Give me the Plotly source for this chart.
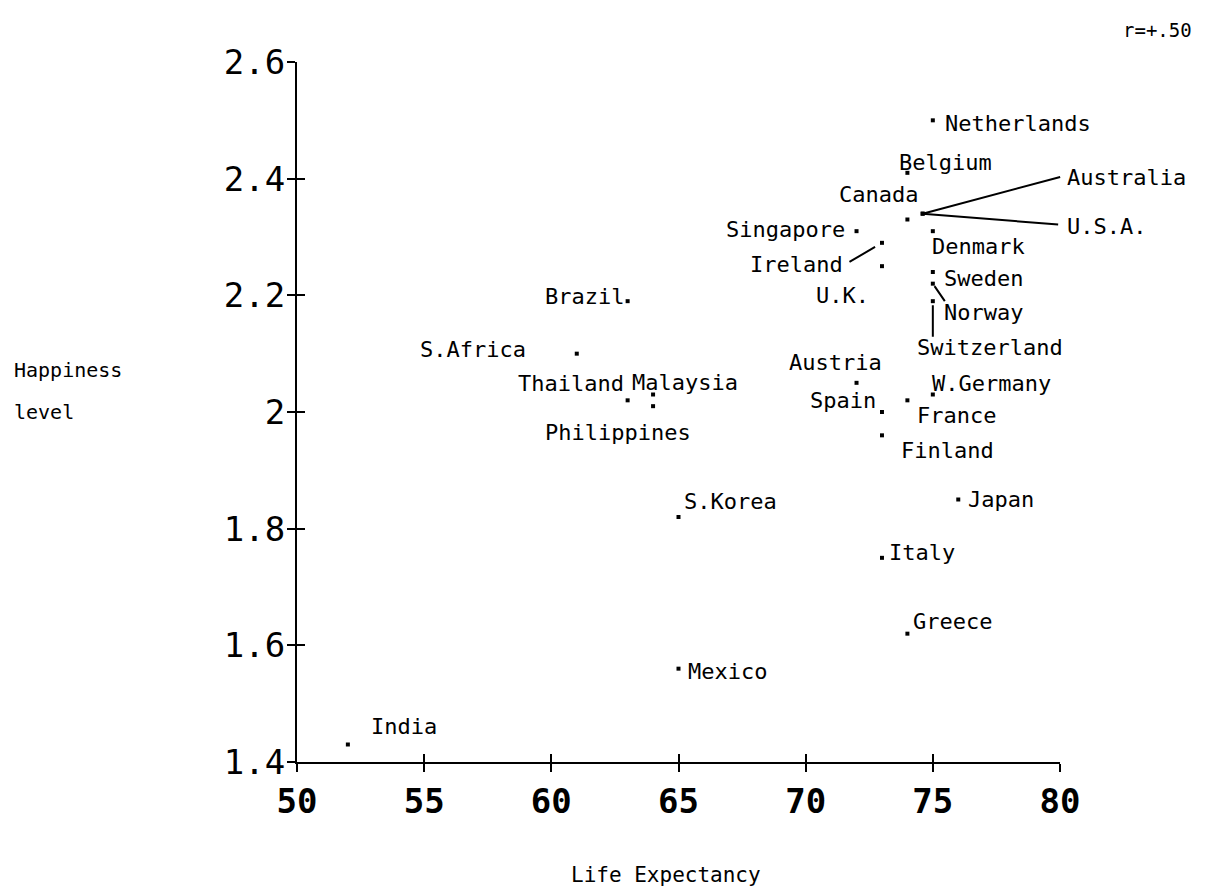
import plotly.graph_objects as go

# ---- data ----
countries = ["Netherlands", "Belgium", "Canada", "Australia", "U.S.A.", "Singapore",
             "Ireland", "U.K.", "Denmark", "Sweden", "Norway", "Switzerland",
             "Brazil", "S.Africa", "Thailand", "Malaysia", "Philippines",
             "Austria", "Spain", "France", "W.Germany", "Finland", "Japan",
             "S.Korea", "Italy", "Greece", "Mexico", "India"]
life_expectancy = [75, 74, 74, 74.6, 74.6, 72,
                   73, 73, 75, 75, 75, 75,
                   63, 61, 63, 64, 64,
                   72, 73, 74, 75, 73, 76,
                   65, 73, 74, 65, 52]
happiness = [2.50, 2.41, 2.33, 2.34, 2.34, 2.31,
             2.29, 2.25, 2.31, 2.24, 2.22, 2.19,
             2.19, 2.10, 2.02, 2.03, 2.01,
             2.05, 2.00, 2.02, 2.03, 1.96, 1.85,
             1.82, 1.75, 1.62, 1.56, 1.43]
x_ticks = [50, 55, 60, 65, 70, 75, 80]
y_ticks = [1.4, 1.6, 1.8, 2.0, 2.2, 2.4, 2.6]
y_tick_text = ["1.4", "1.6", "1.8", "2", "2.2", "2.4", "2.6"]
corr_text = "r=+.50"

# label placement (pixel offsets from the point): anchor, dx, dy (screen, down positive)
label_pos = {
    "Netherlands": ("left", 10, 3),
    "Belgium": ("left", -10, -10),
    "Canada": ("center", -29, -25),
    "Australia": ("left", 142, -36),
    "U.S.A.": ("left", 142, 13),
    "Singapore": ("right", -10, -2),
    "Ireland": ("right", -37, 22),
    "U.K.": ("center", -39, 29),
    "Denmark": ("left", -3, 15),
    "Sweden": ("left", 9, 6),
    "Norway": ("left", 9, 29),
    "Switzerland": ("left", -18, 46),
    "Brazil": ("right", -2, -5),
    "S.Africa": ("right", -49, -4),
    "Thailand": ("right", -2, -17),
    "Malaysia": ("left", -23, -12),
    "Philippines": ("right", 40, 26),
    "Austria": ("center", -21, -20),
    "Spain": ("right", -4, -12),
    "France": ("left", 8, 15),
    "W.Germany": ("left", -3, -11),
    "Finland": ("left", 17, 15),
    "Japan": ("left", 8, 0),
    "S.Korea": ("left", 3, -16),
    "Italy": ("left", 5, -5),
    "Greece": ("left", 4, -12),
    "Mexico": ("left", 7, 3),
    "India": ("left", 21, -18),
}
# leader lines: end of the line relative to the point (pixels), standoff at the point
leaders = {
    "Australia": (139, -37, 0),
    "U.S.A.": (137, 11, 0),
    "Ireland": (-34, 20, 8),
    "Norway": (13, 19, 3),
    "Switzerland": (0, 37, 4),
}

FONT = "DejaVu Sans Mono"
LABEL_SIZE = 22

fig = go.Figure()
fig.add_trace(go.Scatter(
    x=life_expectancy, y=happiness, mode="markers",
    marker=dict(symbol="square", size=4, color="black"),
    cliponaxis=False, showlegend=False, hoverinfo="text", text=countries,
))
# invisible trace to draw the inner halves of the tick crosses
fig.add_trace(go.Scatter(x=[x_ticks[0]], y=[y_ticks[0]], xaxis="x2", yaxis="y2",
                         mode="markers", marker=dict(opacity=0), showlegend=False,
                         hoverinfo="skip"))

annotations = []
lookup = dict(zip(countries, zip(life_expectancy, happiness)))
for name, (anchor, dx, dy) in label_pos.items():
    x, y = lookup[name]
    annotations.append(dict(x=x, y=y, xref="x", yref="y", text=name, showarrow=False,
                            xanchor=anchor, yanchor="middle", xshift=dx, yshift=-dy,
                            font=dict(family=FONT, size=LABEL_SIZE, color="black")))
for name, (ax, ay, so) in leaders.items():
    x, y = lookup[name]
    annotations.append(dict(x=x, y=y, xref="x", yref="y", text="", showarrow=True,
                            arrowhead=0, arrowwidth=2, arrowcolor="black",
                            ax=ax, ay=ay, standoff=so))

annotations += [
    dict(x=0, y=0.56, xref="paper", yref="paper", xanchor="left", yanchor="middle",
         xshift=-285, text="Happiness", showarrow=False,
         font=dict(family=FONT, size=20, color="black")),
    dict(x=0, y=0.50, xref="paper", yref="paper", xanchor="left", yanchor="middle",
         xshift=-285, text="level", showarrow=False,
         font=dict(family=FONT, size=20, color="black")),
    dict(x=0.4836, y=0, xref="paper", yref="paper", xanchor="center", yanchor="middle",
         yshift=-113, text="Life Expectancy", showarrow=False,
         font=dict(family=FONT, size=21, color="black")),
    dict(x=1.128, y=1, xref="paper", yref="paper", xanchor="center", yanchor="middle",
         yshift=32, text=corr_text, showarrow=False,
         font=dict(family=FONT, size=19, color="black")),
]

axis_common = dict(showgrid=False, zeroline=False, showline=True, linecolor="black",
                   linewidth=2, ticks="outside", ticklen=8, tickwidth=2,
                   tickcolor="black")
fig.update_layout(
    width=1219, height=890,
    margin=dict(l=289, r=167, t=54, b=136),
    paper_bgcolor="white", plot_bgcolor="white",
    xaxis=dict(range=[50, 80], tickvals=x_ticks, ticktext=[str(v) for v in x_ticks],
               tickfont=dict(family=FONT, size=34, color="black", weight="bold"),
               ticklabelstandoff=0, **axis_common),
    yaxis=dict(range=[1.4, 2.6], tickvals=y_ticks, ticktext=y_tick_text,
               tickfont=dict(family=FONT, size=34, color="black"),
               ticklabelstandoff=-5, **axis_common),
    xaxis2=dict(range=[50, 80], overlaying="x", anchor="y2", tickvals=x_ticks,
                showticklabels=False, showgrid=False, zeroline=False, showline=False,
                ticks="inside", ticklen=8, tickwidth=2, tickcolor="black"),
    yaxis2=dict(range=[1.4, 2.6], overlaying="y", anchor="x2", tickvals=y_ticks,
                showticklabels=False, showgrid=False, zeroline=False, showline=False,
                ticks="inside", ticklen=8, tickwidth=2, tickcolor="black"),
    annotations=annotations,
    showlegend=False,
)

fig.write_html("out.html")
